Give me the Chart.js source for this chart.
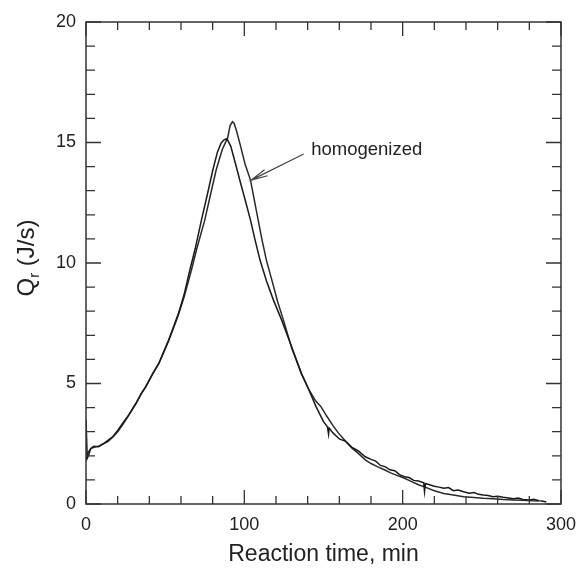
<!DOCTYPE html>
<html>
<head>
<meta charset="utf-8">
<script src="https://cdn.jsdelivr.net/npm/chart.js@4.4.0/dist/chart.umd.min.js"></script>
<style>
  body { margin: 0; background: #fff; }
  #wrap { width: 586px; height: 569px; }
</style>
</head>
<body>
<div id="wrap"><canvas id="qrChart" width="586" height="569"></canvas></div>
<script>
// curve A (not homogenized) - reaction time (min) and heat flow Qr (J/s)
const timeA = [0, 0.8, 1.5, 3, 5, 8, 11, 14, 17, 20, 23.2, 27, 31.5, 35, 37.7, 42, 46, 49, 52.2, 55, 58.4, 62, 65.6, 69, 72.9, 76.5, 80.1, 83, 85.3, 87, 88.5, 89.5, 91.5, 94.5, 97.7, 101, 103.9, 106.8, 110, 114, 118.4, 123.6, 130, 136, 141, 145.3, 150, 152.5, 153.2, 153.6, 156, 160, 164, 168, 172, 176.4, 180, 183, 186, 188.8, 192, 195, 198, 201.2, 204, 207, 210, 213.3, 213.8, 214.4, 217, 220, 223, 226, 229, 232, 235, 238.5, 242, 245, 248, 250.9, 254, 257, 260, 263.4, 267, 270, 273, 276, 280, 283, 286, 288, 290.7];
const qrA = [3.5, 1.9, 2.0, 2.3, 2.4, 2.38, 2.5, 2.65, 2.8, 3.05, 3.35, 3.7, 4.18, 4.6, 4.87, 5.4, 5.84, 6.3, 6.8, 7.3, 7.91, 8.7, 9.71, 10.6, 11.78, 12.8, 13.86, 14.6, 14.97, 15.1, 15.15, 15.1, 14.83, 14.1, 13.3, 12.5, 11.78, 10.95, 10.1, 9.25, 8.46, 7.63, 6.5, 5.42, 4.7, 4.04, 3.42, 3.2, 2.9, 3.15, 2.95, 2.7, 2.6, 2.35, 2.2, 1.96, 1.85, 1.78, 1.6, 1.55, 1.42, 1.38, 1.22, 1.13, 1.1, 0.98, 0.95, 0.88, 0.51, 0.85, 0.8, 0.74, 0.7, 0.65, 0.68, 0.55, 0.58, 0.51, 0.45, 0.48, 0.4, 0.37, 0.35, 0.3, 0.32, 0.28, 0.25, 0.22, 0.25, 0.19, 0.17, 0.2, 0.14, 0.12, 0.08];

// curve B (homogenized)
const timeB = [0, 1, 3, 5, 8, 11, 14, 17, 20, 23.2, 27, 31.5, 35, 37.7, 42, 46, 49, 52.2, 55, 58.4, 62, 66.6, 70, 75, 78.5, 82.2, 86, 89.5, 91, 92.5, 93.5, 95, 97.7, 100.5, 103.9, 107.5, 111.2, 114, 117.4, 121, 124.7, 130, 136, 141, 145, 148.4, 152, 156, 159.6, 164, 168, 172, 176.4, 180, 184, 188.8, 192, 196, 201.2, 205, 210, 215, 220, 226, 232, 238.5, 245, 250.9, 257, 263.4, 270, 276, 282, 286];
const qrB = [1.8, 2.1, 2.3, 2.35, 2.4, 2.5, 2.6, 2.78, 3.0, 3.3, 3.68, 4.15, 4.58, 4.85, 5.38, 5.82, 6.28, 6.78, 7.25, 7.85, 8.6, 9.71, 10.6, 11.78, 12.8, 13.86, 14.7, 15.2, 15.7, 15.86, 15.8, 15.5, 14.83, 14.1, 13.44, 12.2, 10.95, 10.1, 9.29, 8.4, 7.63, 6.45, 5.42, 4.72, 4.28, 4.04, 3.65, 3.25, 2.93, 2.6, 2.32, 2.1, 1.83, 1.68, 1.55, 1.41, 1.3, 1.2, 1.07, 0.95, 0.8, 0.68, 0.55, 0.44, 0.37, 0.3, 0.27, 0.24, 0.22, 0.19, 0.17, 0.16, 0.13, 0.12];

// axis ranges / ticks
const xTicksMajor = [0, 100, 200, 300];
const yTicksMajor = [0, 5, 10, 15, 20];
const xMinorStep = 20;
const yMinorStep = 1;

// annotation: label text + arrow (tail -> tip) in data units
const noteText = 'homogenized';
const noteAt = [142.2, 14.69];
const arrowFrom = [137.5, 14.52];
const arrowTo = [104.3, 13.44];

const toPoints = (xs, ys) => xs.map((x, i) => ({ x: x, y: ys[i] }));

const FONT = '"Liberation Sans", Arial, sans-serif';

// frame, inside ticks, titles and the arrow note
const framePlugin = {
    id: 'frame',
    afterDraw(chart) {
        const ctx = chart.ctx;
        const a = chart.chartArea;
        const xs = chart.scales.x, ys = chart.scales.y;
        ctx.save();
        ctx.strokeStyle = '#333';
        ctx.lineWidth = 1.5;
        ctx.strokeRect(a.left, a.top, a.right - a.left, a.bottom - a.top);

        ctx.lineWidth = 1.3;
        ctx.beginPath();
        for (let v = 0; v <= 300; v += xMinorStep) {
            const px = xs.getPixelForValue(v);
            const len = xTicksMajor.includes(v) ? 14 : 8;
            ctx.moveTo(px, a.bottom); ctx.lineTo(px, a.bottom - len);
            ctx.moveTo(px, a.top); ctx.lineTo(px, a.top + len);
        }
        for (let v = 0; v <= 20; v += yMinorStep) {
            const py = ys.getPixelForValue(v);
            const len = yTicksMajor.includes(v) ? 15 : 9;
            ctx.moveTo(a.left, py); ctx.lineTo(a.left + len, py);
            ctx.moveTo(a.right, py); ctx.lineTo(a.right - len, py);
        }
        ctx.stroke();

        // x title
        ctx.fillStyle = '#222';
        ctx.font = '23px ' + FONT;
        ctx.textAlign = 'center';
        ctx.textBaseline = 'middle';
        ctx.fillText('Reaction time, min', (a.left + a.right) / 2, 555);

        // y title with subscript
        ctx.translate(25, 258);
        ctx.rotate(-Math.PI / 2);
        ctx.textAlign = 'left';
        ctx.textBaseline = 'alphabetic';
        const big = '24px ' + FONT, small = '15px ' + FONT;
        ctx.font = big;
        const wQ = ctx.measureText('Q').width;
        const wRest = ctx.measureText(' (J/s)').width;
        ctx.font = small;
        const wr = ctx.measureText('r').width;
        let x0 = -(wQ + wr + wRest) / 2;
        ctx.font = big;
        ctx.fillText('Q', x0, 9);
        ctx.font = small;
        ctx.fillText('r', x0 + wQ, 14);
        ctx.font = big;
        ctx.fillText(' (J/s)', x0 + wQ + wr, 9);
        ctx.restore();

        // note + arrow
        ctx.save();
        const tx = xs.getPixelForValue(noteAt[0]), ty = ys.getPixelForValue(noteAt[1]);
        ctx.fillStyle = '#222';
        ctx.font = '18.5px ' + FONT;
        ctx.textAlign = 'left';
        ctx.textBaseline = 'middle';
        ctx.fillText(noteText, tx, ty);

        const fx = xs.getPixelForValue(arrowFrom[0]), fy = ys.getPixelForValue(arrowFrom[1]);
        const hx = xs.getPixelForValue(arrowTo[0]), hy = ys.getPixelForValue(arrowTo[1]);
        ctx.strokeStyle = '#444';
        ctx.lineWidth = 1.2;
        ctx.beginPath();
        ctx.moveTo(fx, fy); ctx.lineTo(hx, hy);
        const ang = Math.atan2(fy - hy, fx - hx);
        const L = 17, spread = 0.2;
        ctx.moveTo(hx + L * Math.cos(ang - spread), hy + L * Math.sin(ang - spread));
        ctx.lineTo(hx, hy);
        ctx.lineTo(hx + L * Math.cos(ang + spread), hy + L * Math.sin(ang + spread));
        ctx.stroke();
        ctx.restore();
    }
};

const ctx = document.getElementById('qrChart').getContext('2d');
const chart = new Chart(ctx, {
    type: 'scatter',
    data: {
        datasets: [
            {
                label: 'A',
                data: toPoints(timeA, qrA),
                showLine: true,
                borderColor: '#1a1a1a',
                borderWidth: 1.5,
                pointRadius: 0,
                tension: 0
            },
            {
                label: 'homogenized',
                data: toPoints(timeB, qrB),
                showLine: true,
                borderColor: '#2a2a2a',
                borderWidth: 1.5,
                pointRadius: 0,
                tension: 0
            }
        ]
    },
    options: {
        responsive: false,
        animation: false,
        devicePixelRatio: 1,
        layout: { padding: { left: 0, top: 22, right: 17, bottom: 0 } },
        plugins: {
            legend: { display: false },
            tooltip: { enabled: false }
        },
        scales: {
            x: {
                type: 'linear',
                min: 0,
                max: 300,
                afterFit: s => { s.height = 65; },
                afterBuildTicks: s => { s.ticks = xTicksMajor.map(v => ({ value: v })); },
                ticks: { color: '#222', font: { family: FONT, size: 18 }, padding: 10, maxRotation: 0 },
                grid: { display: false, drawTicks: false },
                border: { display: false }
            },
            y: {
                type: 'linear',
                min: 0,
                max: 20,
                afterFit: s => { s.width = 86; },
                afterBuildTicks: s => { s.ticks = yTicksMajor.map(v => ({ value: v })); },
                ticks: { color: '#222', font: { family: FONT, size: 18 }, padding: 10 },
                grid: { display: false, drawTicks: false },
                border: { display: false }
            }
        }
    },
    plugins: [framePlugin]
});
</script>
</body>
</html>
